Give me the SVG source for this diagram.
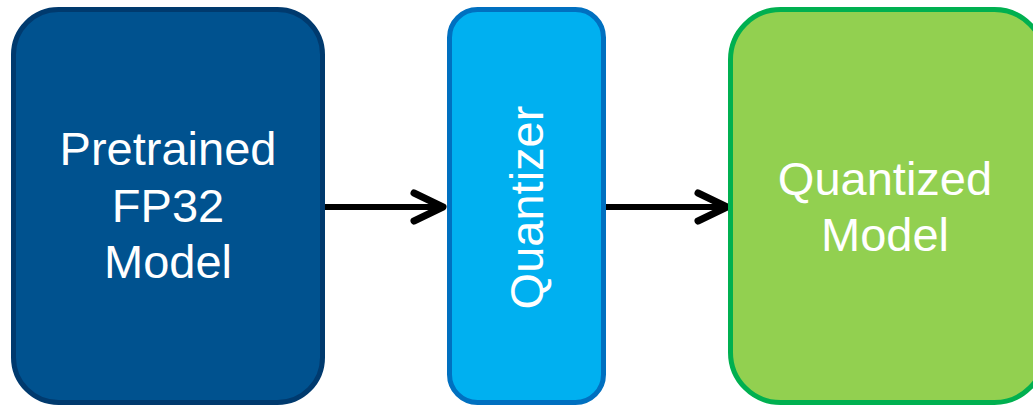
<svg xmlns="http://www.w3.org/2000/svg" width="1033" height="406" viewBox="0 0 1033 406">
  <style>
    .lbl { font-family: "Liberation Sans", Arial, sans-serif; font-size: 47px; fill: #ffffff; text-anchor: middle; }
    .conn { stroke: #000000; stroke-width: 6; fill: none; }
  </style>
  <defs>
    <marker id="chev" markerUnits="userSpaceOnUse" markerWidth="40" markerHeight="40" viewBox="0 0 40 40" refX="32" refY="20" orient="auto" overflow="visible">
      <path d="M3,6 L32,20 L3,34" fill="none" stroke="#000000" stroke-width="7" stroke-linecap="round" stroke-linejoin="round"/>
    </marker>
  </defs>
  <rect width="1033" height="406" fill="#ffffff"/>
  <g id="connectors">
    <path class="conn" d="M324,207 L443,207" marker-end="url(#chev)"/>
    <path class="conn" d="M605,207 L727,207" marker-end="url(#chev)"/>
  </g>
  <g id="node-pretrained">
    <rect x="13.5" y="9.5" width="309" height="393" rx="45" fill="#00528f" stroke="#003a6e" stroke-width="5"/>
    <text class="lbl" x="168" y="165">Pretrained</text>
    <text class="lbl" x="168" y="221.5">FP32</text>
    <text class="lbl" x="168" y="278">Model</text>
  </g>
  <g id="node-quantizer">
    <rect x="449.5" y="9.5" width="154" height="393" rx="28" fill="#00b0f0" stroke="#0070c0" stroke-width="5"/>
    <text class="lbl" transform="translate(543,207.5) rotate(-90)" x="0" y="0">Quantizer</text>
  </g>
  <g id="node-quantized">
    <rect x="730.5" y="9.5" width="314" height="393" rx="50" fill="#92d050" stroke="#00b050" stroke-width="5"/>
    <text class="lbl" x="885" y="195">Quantized</text>
    <text class="lbl" x="885" y="250.5">Model</text>
  </g>
</svg>
